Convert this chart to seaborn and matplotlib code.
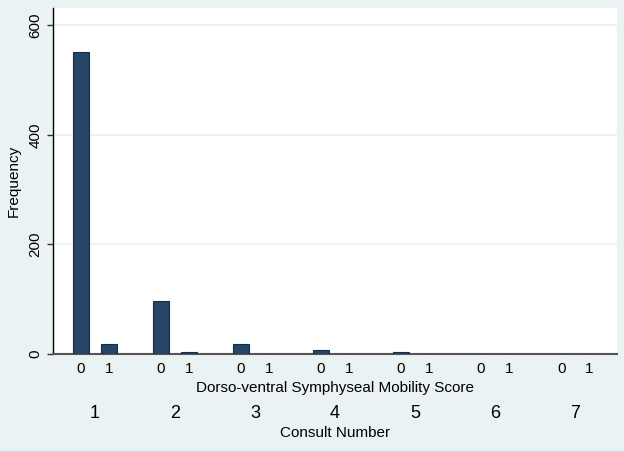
import pandas as pd
import matplotlib.pyplot as plt
import seaborn as sns

# frequencies of the mobility score (0/1) at each consult
consult_number = ["1", "2", "3", "4", "5", "6", "7"]
score_labels = ["0", "1"]
freq_score_0 = [551, 97, 18, 7, 3, 0, 0]
freq_score_1 = [18, 3, 0, 0, 0, 0, 0]

df = pd.DataFrame({
    "consult": consult_number * 2,
    "score": ["0"] * len(consult_number) + ["1"] * len(consult_number),
    "freq": freq_score_0 + freq_score_1,
})

sns.set_theme(style="white")
plt.rcParams["font.family"] = ["Liberation Sans", "DejaVu Sans"]
plt.rcParams["text.color"] = "black"
plt.rcParams["axes.labelcolor"] = "black"
plt.rcParams["xtick.color"] = "black"
plt.rcParams["ytick.color"] = "black"

bg = "#eaf2f3"
navy = "#1a476f"

fig = plt.figure(figsize=(6.24, 4.51), dpi=100, facecolor=bg)
ax = fig.add_axes([0.085, 0.215, 0.904, 0.767])
ax.set_facecolor("white")

sns.barplot(data=df, x="consult", y="freq", hue="score", hue_order=score_labels,
            palette=[navy, navy], width=0.7, gap=0.43, edgecolor="#10304f",
            linewidth=0.8, legend=False, ax=ax, zorder=3)

ax.set_xlim(-0.525, 6.525)
ax.set_ylim(0, 631)
ax.set_yticks([0, 200, 400, 600])
ax.yaxis.grid(True, color=bg, linewidth=1.2, zorder=0)
ax.tick_params(axis="y", left=True, length=4.5, width=1, color="#333333",
               labelsize=11, labelrotation=90, pad=3)
for t in ax.get_yticklabels():
    t.set_va("center")

# inner axis: score within each consult
pos = [i + d for i in range(len(consult_number)) for d in (-0.175, 0.175)]
ax.set_xticks(pos, score_labels * len(consult_number))
ax.tick_params(axis="x", length=0, labelsize=11, pad=5.5)
ax.set_xlabel("Dorso-ventral Symphyseal Mobility Score", fontsize=11, labelpad=3.5)
ax.set_ylabel("Frequency", fontsize=11, labelpad=6)

# outer axis: consult number
sec = ax.secondary_xaxis(-0.135)
sec.set_xticks(range(len(consult_number)), consult_number)
sec.tick_params(length=0, labelsize=13, pad=3)
sec.spines["bottom"].set_visible(False)
sec.set_xlabel("Consult Number", fontsize=11, labelpad=3)

for s in ["top", "right"]:
    ax.spines[s].set_visible(False)
ax.spines["left"].set_color("black")
ax.spines["left"].set_linewidth(1)
ax.spines["bottom"].set_color("#555555")
ax.spines["bottom"].set_linewidth(1.5)

fig.savefig("out.png", dpi=100, facecolor=bg)
